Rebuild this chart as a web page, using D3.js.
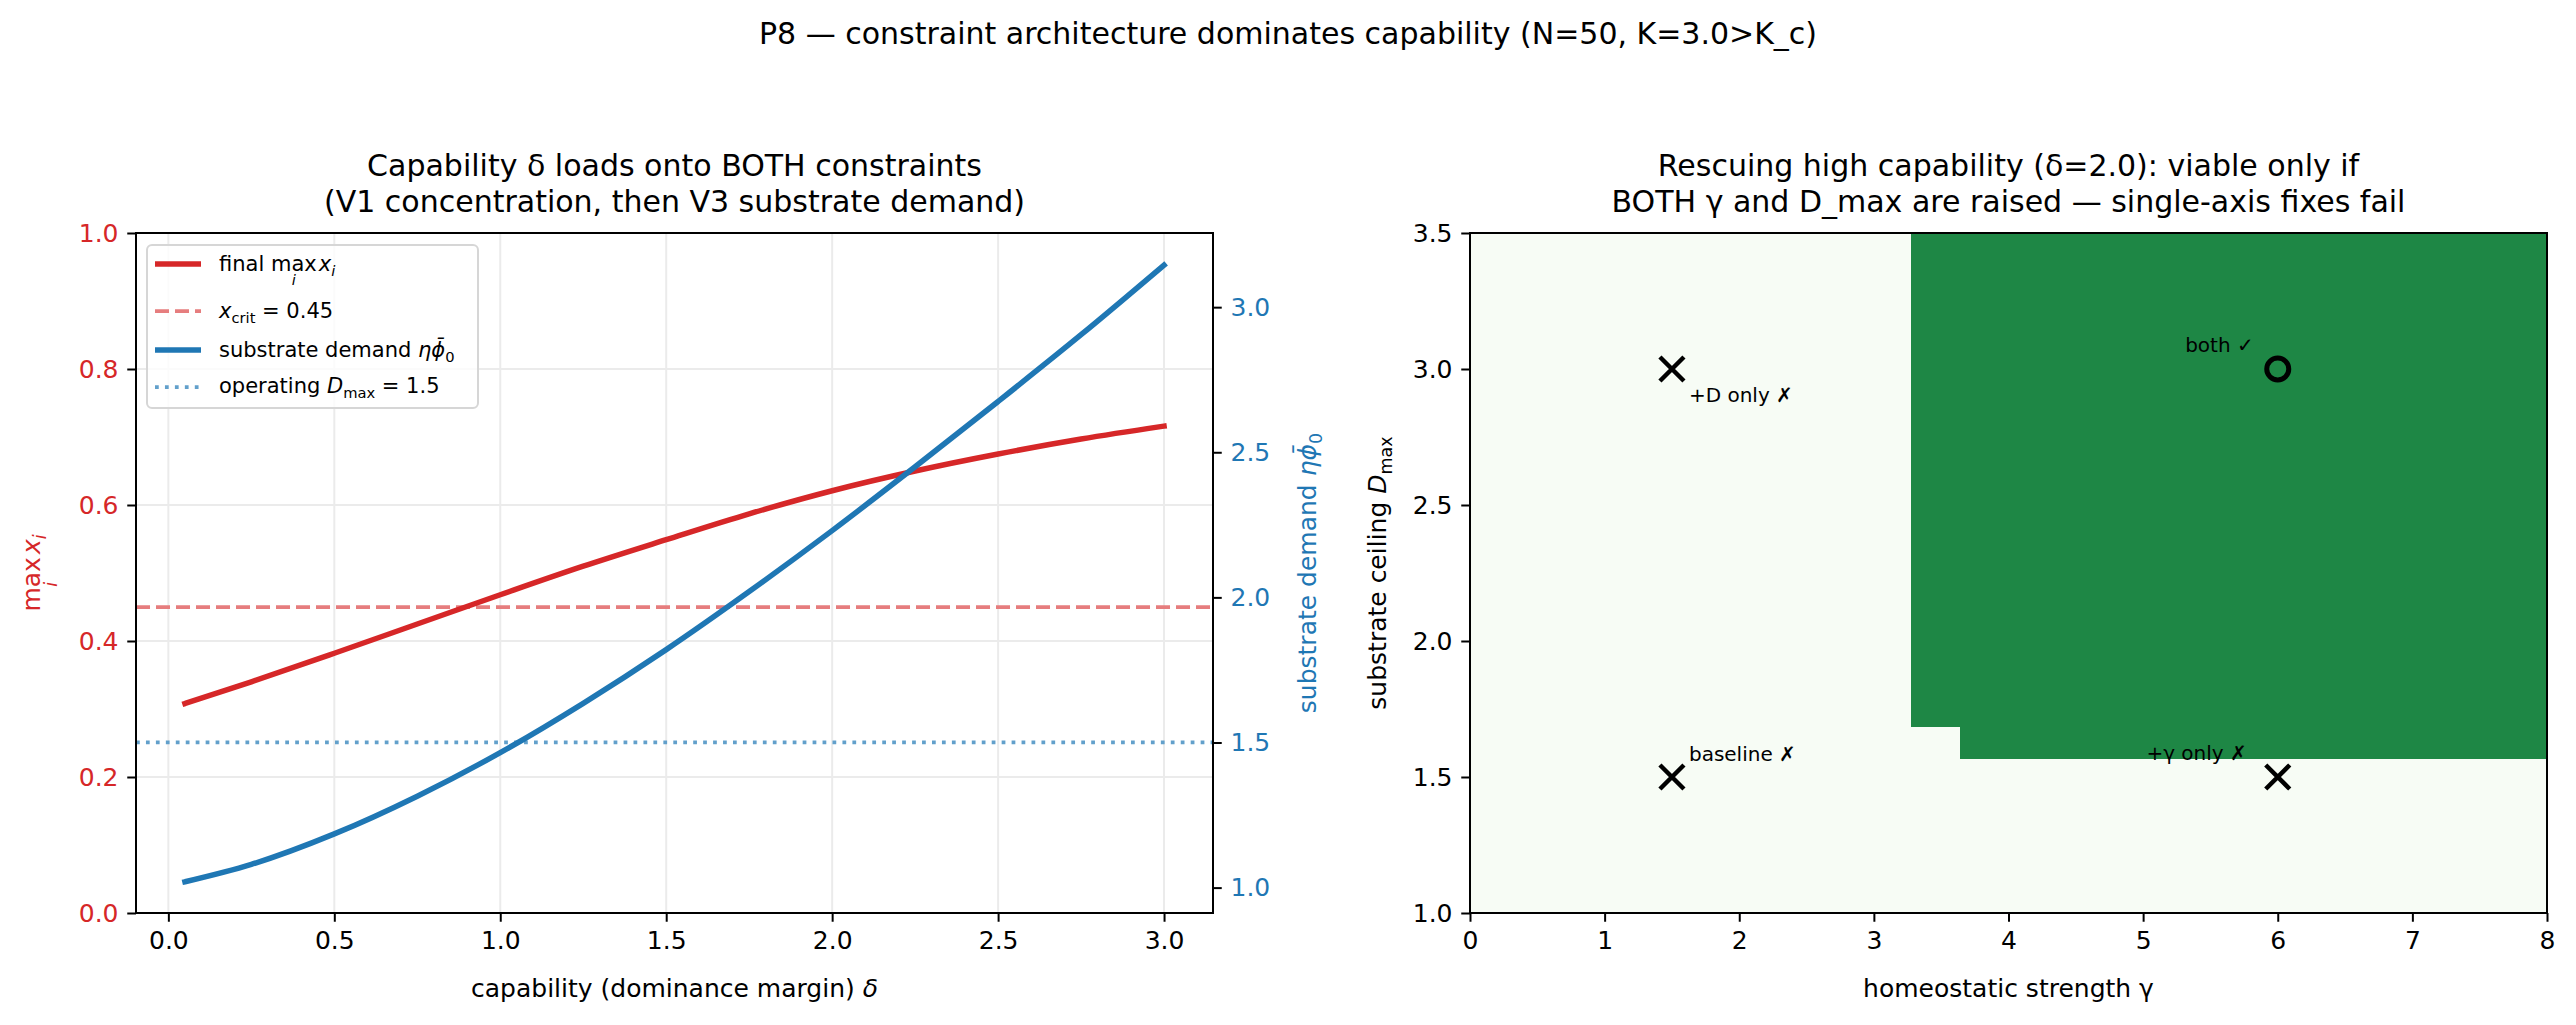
<!DOCTYPE html>
<html>
<head>
<meta charset="utf-8">
<script src="https://cdn.jsdelivr.net/npm/d3@7"></script>
<style>
body { margin: 0; background: #fff; }
svg { font-family: "DejaVu Sans", sans-serif; }
svg text { white-space: pre; }
</style>
</head>
<body>
<script>
// ---- data ----
var delta = [0.05, 0.25, 0.5, 0.75, 1.0, 1.25, 1.5, 1.75, 2.0, 2.25, 2.5, 2.75, 3.0]
var finalMaxX = [0.308, 0.34, 0.382, 0.425, 0.468, 0.51, 0.549, 0.587, 0.621, 0.65, 0.675, 0.697, 0.716]
var substrateDemand = [1.02, 1.08, 1.185, 1.315, 1.465, 1.635, 1.82, 2.02, 2.23, 2.45, 2.675, 2.905, 3.145]
var xCrit = 0.45
var operatingDmax = 1.5

var deltaTicks = [0, 0.5, 1.0, 1.5, 2.0, 2.5, 3.0]
var maxXTicks = [0, 0.2, 0.4, 0.6, 0.8, 1.0]
var demandTicks = [1.0, 1.5, 2.0, 2.5, 3.0]

// viability map: 22 gamma columns over [0, 8], lowest viable D_max per column (null = never viable)
var viableFromD = [null, null, null, null, null, null, null, null, null, 1.682,
    1.568, 1.568, 1.568, 1.568, 1.568, 1.568, 1.568, 1.568, 1.568, 1.568, 1.568, 1.568]
var gammaTicks = [0, 1, 2, 3, 4, 5, 6, 7, 8]
var dmaxTicks = [1.0, 1.5, 2.0, 2.5, 3.0, 3.5]

var scenGamma = [1.5, 1.5, 6, 6]
var scenDmax = [1.5, 3.0, 1.5, 3.0]
var scenLabel = ["baseline \u2717", "+D only \u2717", "+\u03b3 only \u2717", "both \u2713"]
var scenViable = [false, false, false, true]

// ---- colours ----
var RED = "#d62728", BLUE = "#1f77b4"
var RED_LIGHT = "#e67d7e", BLUE_LIGHT = "#62a0cb"
var GREEN_LO = "#f7fcf5", GREEN_HI = "#1e8745"

var W = 2576, H = 1025
var d = d3.select("body").append("svg").attr("width", W).attr("height", H)

var L = { x0: 136, x1: 1213, y0: 233, y1: 913 }
var R = { x0: 1470, x1: 2547, y0: 233, y1: 913 }
var TICK = 8.75, FS = 25

// rich text: parts are {t, it, sub, under}; returns group
function rich(g, x, y, parts, size, anchor, color, rot) {
    var grp = g.append("g").attr("transform", `translate(${x},${y}) rotate(${rot || 0})`)
    var inner = grp.append("g")
    var cur = 0, prevStart = 0, prevW = 0
    parts.forEach(function (p) {
        var s = (p.sub || p.under) ? size * 0.7 : size
        var t = inner.append("text")
            .attr("font-size", s)
            .attr("fill", color || "#000")
            .style("font-style", p.it ? "italic" : "normal")
            .text(p.t)
        var w = t.node().getComputedTextLength()
        if (p.under) {
            t.attr("x", prevStart + prevW / 2).attr("y", size * 0.68).attr("text-anchor", "middle")
        } else {
            t.attr("x", cur + (p.dx || 0)).attr("y", p.sub ? size * 0.22 : 0)
            prevStart = cur + (p.dx || 0)
            prevW = w
            cur += w + (p.dx || 0)
        }
    })
    var shift = anchor === "middle" ? -cur / 2 : anchor === "end" ? -cur : 0
    inner.attr("transform", `translate(${shift},0)`)
    return grp
}

function plain(g, x, y, str, size, anchor, color, rot) {
    return g.append("text")
        .attr("transform", `translate(${x},${y}) rotate(${rot || 0})`)
        .attr("text-anchor", anchor || "start")
        .attr("font-size", size)
        .attr("fill", color || "#000")
        .text(str)
}

function styleAxis(sel, labelColor) {
    sel.select(".domain").remove()
    sel.selectAll(".tick line").attr("stroke", "#000").attr("stroke-width", 2)
    sel.selectAll(".tick text").attr("font-size", FS).attr("fill", labelColor || "#000")
        .attr("font-family", "DejaVu Sans, sans-serif")
}

// ---- suptitle ----
plain(d, W / 2, 44, "P8 \u2014 constraint architecture dominates capability (N=50, K=3.0>K_c)", 30, "middle")

// ================= left panel =================
var xL = d3.scaleLinear().domain([-0.0975, 3.1475]).range([L.x0, L.x1])
var yL = d3.scaleLinear().domain([0, 1]).range([L.y1, L.y0])
var yD = d3.scaleLinear().domain([0.9125, 3.2555]).range([L.y1, L.y0])

var gl = d.append("g")

// grid
gl.selectAll(".gx").data(deltaTicks).enter().append("line")
    .attr("x1", xL).attr("x2", xL).attr("y1", L.y0).attr("y2", L.y1)
    .attr("stroke", "#ebebeb").attr("stroke-width", 2)
gl.selectAll(".gy").data(maxXTicks).enter().append("line")
    .attr("x1", L.x0).attr("x2", L.x1).attr("y1", yL).attr("y2", yL)
    .attr("stroke", "#ebebeb").attr("stroke-width", 2)

// reference lines
gl.append("line")
    .attr("x1", L.x0).attr("x2", L.x1).attr("y1", yL(xCrit)).attr("y2", yL(xCrit))
    .attr("stroke", RED_LIGHT).attr("stroke-width", 3.75).attr("stroke-dasharray", "14,6")
gl.append("line")
    .attr("x1", L.x0).attr("x2", L.x1).attr("y1", yD(operatingDmax)).attr("y2", yD(operatingDmax))
    .attr("stroke", BLUE_LIGHT).attr("stroke-width", 3.75).attr("stroke-dasharray", "3.75,6.2")

var lineRed = d3.line().x(function (v, i) { return xL(delta[i]) }).y(function (v) { return yL(v) }).curve(d3.curveMonotoneX)
var lineBlue = d3.line().x(function (v, i) { return xL(delta[i]) }).y(function (v) { return yD(v) }).curve(d3.curveMonotoneX)

gl.append("path").attr("d", lineRed(finalMaxX))
    .attr("fill", "none").attr("stroke", RED).attr("stroke-width", 5.5).attr("stroke-linecap", "square")
gl.append("path").attr("d", lineBlue(substrateDemand))
    .attr("fill", "none").attr("stroke", BLUE).attr("stroke-width", 5.5).attr("stroke-linecap", "square")

// axes
var axB = gl.append("g").attr("transform", `translate(0,${L.y1})`)
    .call(d3.axisBottom(xL).tickValues(deltaTicks).tickFormat(d3.format(".1f")).tickSize(TICK).tickPadding(8.75))
styleAxis(axB)
axB.selectAll(".tick text").attr("dy", "0.75em")
var axLft = gl.append("g").attr("transform", `translate(${L.x0},0)`)
    .call(d3.axisLeft(yL).tickValues(maxXTicks).tickFormat(d3.format(".1f")).tickSize(TICK).tickPadding(8.75))
styleAxis(axLft, RED)
var axRgt = gl.append("g").attr("transform", `translate(${L.x1},0)`)
    .call(d3.axisRight(yD).tickValues(demandTicks).tickFormat(d3.format(".1f")).tickSize(TICK).tickPadding(8.75))
styleAxis(axRgt, BLUE)

gl.append("rect").attr("x", L.x0).attr("y", L.y0).attr("width", L.x1 - L.x0).attr("height", L.y1 - L.y0)
    .attr("fill", "none").attr("stroke", "#000").attr("stroke-width", 2)

// titles and labels
plain(gl, (L.x0 + L.x1) / 2, 176, "Capability \u03b4 loads onto BOTH constraints", 30, "middle")
plain(gl, (L.x0 + L.x1) / 2, 212, "(V1 concentration, then V3 substrate demand)", 30, "middle")
rich(gl, (L.x0 + L.x1) / 2, 997, [{ t: "capability (dominance margin) " }, { t: "\u03b4", it: true }], FS, "middle")
rich(gl, 40, (L.y0 + L.y1) / 2, [{ t: "max" }, { t: "i", it: true, under: true }, { t: "x", it: true, dx: 3 }, { t: "i", it: true, sub: true }], FS, "middle", RED, -90)
rich(gl, 1316, (L.y0 + L.y1) / 2, [{ t: "substrate demand " }, { t: "\u03b7", it: true }, { t: "\u03d5\u0304", it: true }, { t: "0", sub: true }], FS, "middle", BLUE, -90)

// legend
var lg = gl.append("g")
lg.append("rect").attr("x", 147).attr("y", 245).attr("width", 331).attr("height", 163).attr("rx", 5)
    .attr("fill", "#fff").attr("fill-opacity", 0.8).attr("stroke", "#d6d6d6").attr("stroke-width", 2)
var LFS = 21
var legRows = [
    { y: 264, stroke: RED, w: 5.5, dash: null, parts: [{ t: "final " }, { t: "max" }, { t: "i", it: true, under: true }, { t: "x", it: true, dx: 2 }, { t: "i", it: true, sub: true }], base: 271 },
    { y: 311, stroke: RED_LIGHT, w: 3.75, dash: "14,6", parts: [{ t: "x", it: true }, { t: "crit", sub: true }, { t: " = 0.45" }], base: 318 },
    { y: 350, stroke: BLUE, w: 5.5, dash: null, parts: [{ t: "substrate demand " }, { t: "\u03b7", it: true }, { t: "\u03d5\u0304", it: true }, { t: "0", sub: true }], base: 357 },
    { y: 387, stroke: BLUE_LIGHT, w: 3.75, dash: "3.75,6.2", parts: [{ t: "operating " }, { t: "D", it: true }, { t: "max", sub: true }, { t: " = 1.5" }], base: 393 }
]
legRows.forEach(function (r) {
    lg.append("line").attr("x1", 155).attr("x2", 201).attr("y1", r.y).attr("y2", r.y)
        .attr("stroke", r.stroke).attr("stroke-width", r.w).attr("stroke-dasharray", r.dash)
    rich(lg, 219, r.base, r.parts, LFS, "start")
})

// ================= right panel =================
var xR = d3.scaleLinear().domain([0, 8]).range([R.x0, R.x1])
var yR = d3.scaleLinear().domain([1, 3.5]).range([R.y1, R.y0])
var gr = d.append("g")

gr.append("rect").attr("x", R.x0).attr("y", R.y0).attr("width", R.x1 - R.x0).attr("height", R.y1 - R.y0)
    .attr("fill", GREEN_LO)

// viable cells, one column per gamma bin
var colW = 8 / viableFromD.length
var cols = viableFromD.map(function (v, i) { return { i: i, v: v } }).filter(function (c) { return c.v !== null })
gr.selectAll(".cell").data(cols).enter().append("rect")
    .attr("class", "cell")
    .attr("x", function (c) { return xR(c.i * colW) })
    .attr("width", function (c) { return Math.min(xR((c.i + 1) * colW) + 1, R.x1) - xR(c.i * colW) })
    .attr("y", yR(3.5))
    .attr("height", function (c) { return yR(c.v) - yR(3.5) })
    .attr("fill", GREEN_HI)
    .attr("shape-rendering", "crispEdges")

var axB2 = gr.append("g").attr("transform", `translate(0,${R.y1})`)
    .call(d3.axisBottom(xR).tickValues(gammaTicks).tickFormat(d3.format("d")).tickSize(TICK).tickPadding(8.75))
styleAxis(axB2)
axB2.selectAll(".tick text").attr("dy", "0.75em")
var axL2 = gr.append("g").attr("transform", `translate(${R.x0},0)`)
    .call(d3.axisLeft(yR).tickValues(dmaxTicks).tickFormat(d3.format(".1f")).tickSize(TICK).tickPadding(8.75))
styleAxis(axL2)
gr.append("rect").attr("x", R.x0).attr("y", R.y0).attr("width", R.x1 - R.x0).attr("height", R.y1 - R.y0)
    .attr("fill", "none").attr("stroke", "#000").attr("stroke-width", 2)

// scenario markers
var labOff = [
    { dx: 17, dy: -16, a: "start" },
    { dx: 17, dy: 33, a: "start" },
    { dx: -31, dy: -17, a: "end" },
    { dx: -24, dy: -17, a: "end" }
]
scenGamma.forEach(function (g, i) {
    var cx = xR(g), cy = yR(scenDmax[i])
    if (scenViable[i]) {
        gr.append("circle").attr("cx", cx).attr("cy", cy).attr("r", 11)
            .attr("fill", "none").attr("stroke", "#000").attr("stroke-width", 5)
    } else {
        var s = 12
        gr.append("path").attr("d", `M${cx - s},${cy - s}L${cx + s},${cy + s}M${cx - s},${cy + s}L${cx + s},${cy - s}`)
            .attr("stroke", "#000").attr("stroke-width", 4.5)
    }
    plain(gr, cx + labOff[i].dx, cy + labOff[i].dy, scenLabel[i], 20, labOff[i].a)
})

plain(gr, (R.x0 + R.x1) / 2, 176, "Rescuing high capability (\u03b4=2.0): viable only if", 30, "middle")
plain(gr, (R.x0 + R.x1) / 2, 212, "BOTH \u03b3 and D_max are raised \u2014 single-axis fixes fail", 30, "middle")
plain(gr, (R.x0 + R.x1) / 2, 997, "homeostatic strength \u03b3", FS, "middle")
rich(gr, 1386, (R.y0 + R.y1) / 2, [{ t: "substrate ceiling " }, { t: "D", it: true }, { t: "max", sub: true }], FS, "middle", "#000", -90)
</script>
</body>
</html>
